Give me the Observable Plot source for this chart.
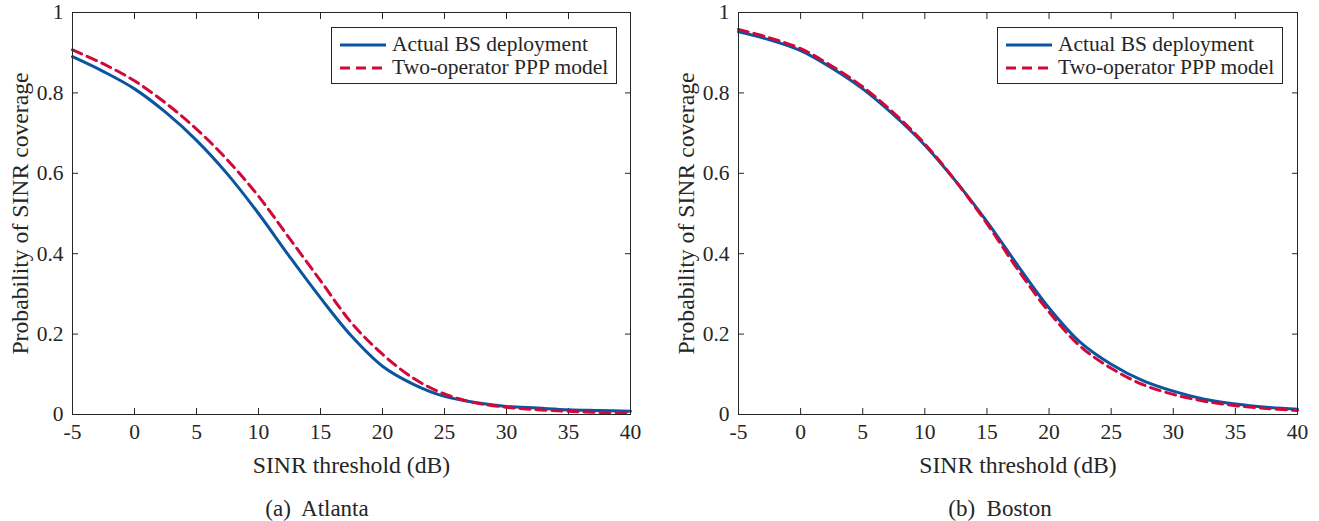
<!DOCTYPE html>
<html>
<head>
<meta charset="utf-8">
<script src="https://cdn.jsdelivr.net/npm/d3@7"></script>
<script src="https://cdn.jsdelivr.net/npm/@observablehq/plot@0.6"></script>
</head>
<body style="margin:0;background:#fff;font-family:'Liberation Serif', serif">
<div id="wrap" style="position:relative;width:1319px;height:521px;font-family:'Liberation Serif', serif;color:#262626;overflow:hidden"></div>
<script>
// ---- data ----
const xValues = [-5, -2.5, 0, 2.5, 5, 7.5, 10, 12.5, 15, 17.5, 20, 22.5, 25, 27.5, 30, 32.5, 35, 37.5, 40];
const atlantaActual = [0.89, 0.853, 0.81, 0.752, 0.682, 0.598, 0.50, 0.393, 0.29, 0.195, 0.12, 0.075, 0.045, 0.03, 0.02, 0.016, 0.012, 0.01, 0.008];
const atlantaPPP    = [0.907, 0.872, 0.83, 0.775, 0.71, 0.633, 0.543, 0.438, 0.333, 0.228, 0.15, 0.09, 0.051, 0.029, 0.018, 0.012, 0.008, 0.005, 0.004];
const bostonActual  = [0.952, 0.932, 0.905, 0.862, 0.81, 0.745, 0.67, 0.58, 0.48, 0.37, 0.265, 0.18, 0.125, 0.085, 0.058, 0.038, 0.026, 0.018, 0.013];
const bostonPPP     = [0.958, 0.937, 0.91, 0.867, 0.815, 0.75, 0.673, 0.58, 0.475, 0.36, 0.255, 0.17, 0.115, 0.075, 0.05, 0.033, 0.022, 0.015, 0.01];
const seriesNames = ["Actual BS deployment", "Two-operator PPP model"];
const xTicks = [-5, 0, 5, 10, 15, 20, 25, 30, 35, 40];
const yTicks = [0, 0.2, 0.4, 0.6, 0.8, 1];
const yTickLabels = ["0", "0.2", "0.4", "0.6", "0.8", "1"];
const xLabel = "SINR threshold (dB)";
const yLabel = "Probability of SINR coverage";
const captions = ["(a)  Atlanta", "(b)  Boston"];

const BLUE = "#0b55a0";
const RED = "#d0093a";
const AX = "#262626";
const FONT = "'Liberation Serif', serif";

function setFont(el) { el.style.setProperty("font-family", FONT, "important"); }

function panel(actual, ppp, width, marginRight) {
  const a = xValues.map((x, i) => ({x, y: actual[i]}));
  const p = xValues.map((x, i) => ({x, y: ppp[i]}));
  const svg = Plot.plot({
    width, height: 470,
    marginLeft: 72, marginRight, marginTop: 12, marginBottom: 56,
    x: {domain: [-5, 40]},
    y: {domain: [0, 1]},
    style: {fontFamily: FONT, fontSize: "21.5px", color: AX, background: "transparent", overflow: "visible"},
    marks: [
      Plot.axisX(xTicks, {anchor: "bottom", tickSize: 0, tickPadding: 9, label: null, fontSize: 21.5, tickFormat: d => String(d)}),
      Plot.axisX(xTicks, {anchor: "bottom", tickSize: -6, tickFormat: () => "", label: null, stroke: AX}),
      Plot.axisX(xTicks, {anchor: "top", tickSize: -6, tickFormat: () => "", label: null, stroke: AX}),
      Plot.axisY(yTicks, {anchor: "left", tickSize: 0, tickPadding: 9, label: null, fontSize: 21.5, tickFormat: d => yTickLabels[yTicks.indexOf(d)]}),
      Plot.axisY(yTicks, {anchor: "left", tickSize: -6, tickFormat: () => "", label: null, stroke: AX}),
      Plot.axisY(yTicks, {anchor: "right", tickSize: -6, tickFormat: () => "", label: null, stroke: AX}),
      Plot.line(a, {x: "x", y: "y", stroke: BLUE, strokeWidth: 3, curve: "catmull-rom"}),
      Plot.line(p, {x: "x", y: "y", stroke: RED, strokeWidth: 3, strokeDasharray: "10,6", curve: "catmull-rom"}),
      Plot.frame({stroke: AX, strokeWidth: 1}),
      Plot.text([xLabel], {frameAnchor: "bottom", dy: 51, lineAnchor: "middle", textAnchor: "middle", fontSize: 23.7, fill: AX}),
      Plot.text([yLabel], {frameAnchor: "left", dx: -52, rotate: -90, lineAnchor: "middle", textAnchor: "middle", fontSize: 23.7, fill: AX})
    ]
  });
  setFont(svg);
  svg.querySelectorAll("g, text").forEach(setFont);
  return svg;
}

function legend(left, top) {
  const d = document.createElement("div");
  Object.assign(d.style, {
    position: "absolute", left: left + "px", top: top + "px", width: "286px",
    boxSizing: "border-box", border: "1px solid #262626", background: "#fff",
    fontSize: "21.5px", padding: "5px 0 4px 8px", lineHeight: "23px", color: AX
  });
  setFont(d);
  const styles = [{c: BLUE, dash: null}, {c: RED, dash: "10,6"}];
  seriesNames.forEach((name, i) => {
    const row = document.createElement("div");
    Object.assign(row.style, {display: "flex", alignItems: "center", whiteSpace: "nowrap"});
    const s = styles[i];
    row.innerHTML = `<svg width="46" height="10" style="margin-right:6px;flex:none"><line x1="0" x2="46" y1="5" y2="5" stroke="${s.c}" stroke-width="3" ${s.dash ? `stroke-dasharray="${s.dash}"` : ""}/></svg>`;
    const span = document.createElement("span");
    span.textContent = name;
    setFont(span);
    row.appendChild(span);
    d.appendChild(row);
  });
  return d;
}

const wrap = document.getElementById("wrap");
const left = panel(atlantaActual, atlantaPPP, 660, 30);
Object.assign(left.style, {position: "absolute", top: "0px", left: "0px"});
wrap.appendChild(left);
const right = panel(bostonActual, bostonPPP, 653, 22);
Object.assign(right.style, {position: "absolute", top: "0px", left: "666px"});
wrap.appendChild(right);

wrap.appendChild(legend(331, 27));
wrap.appendChild(legend(997, 27));

[[317, captions[0]], [1000, captions[1]]].forEach(([cx, t]) => {
  const c = document.createElement("div");
  Object.assign(c.style, {
    position: "absolute", left: cx + "px", top: "509px", fontSize: "23px",
    transform: "translate(-50%, -50%)", whiteSpace: "pre", color: AX
  });
  setFont(c);
  c.textContent = t;
  wrap.appendChild(c);
});
</script>
</body>
</html>
